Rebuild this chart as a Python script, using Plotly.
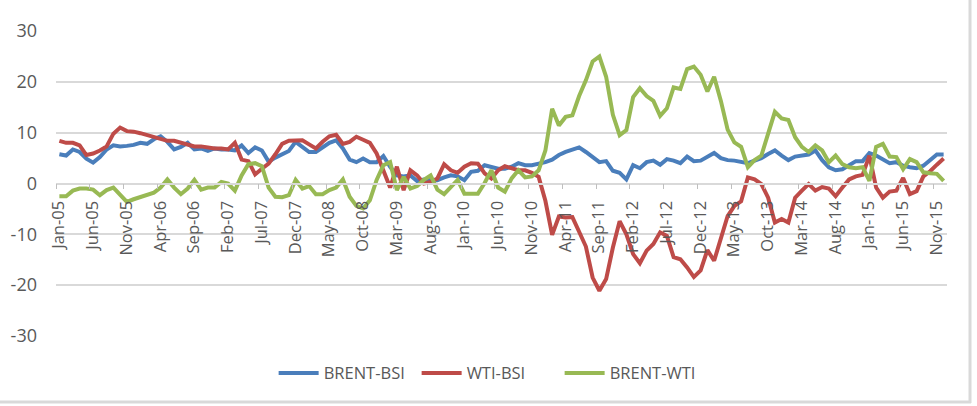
import plotly.graph_objects as go

months = [f"{m}-{y:02d}" for y in range(5, 16) for m in
          ["Jan", "Feb", "Mar", "Apr", "May", "Jun", "Jul", "Aug", "Sep", "Oct", "Nov", "Dec"]]

brent_bsi = [
    5.75, 5.5, 6.7, 6.2, 4.9, 4.1, 5.2, 6.7, 7.5, 7.3, 7.4, 7.6,
    8.0, 7.8, 8.7, 9.3, 8.2, 6.7, 7.2, 8.0, 6.7, 6.9, 6.4, 6.9,
    6.7, 6.7, 6.5, 7.5, 6.0, 7.1, 6.5, 4.3, 5.1, 5.7, 6.4, 8.2,
    7.1, 6.2, 6.2, 7.2, 8.0, 8.5, 6.9, 4.7, 4.2, 4.9, 4.2, 4.2,
    5.4, 3.3, 1.6, 1.4, 1.6, 0.5, 0.8, 0.65, 0.65, 1.2, 1.6, 1.4,
    0.65, 2.3, 2.5, 3.6, 3.3, 2.9, 2.9, 3.3, 4.0, 3.6, 3.6, 3.8,
    4.2, 4.7, 5.6, 6.2, 6.7, 7.1, 6.2, 5.1, 4.2, 4.4, 2.5, 2.1,
    0.8, 3.6, 3.0, 4.2, 4.5, 3.7, 4.8, 4.5, 4.0, 5.3, 4.4, 4.5,
    5.3, 6.0, 5.0, 4.6, 4.5, 4.2, 4.0, 4.5, 5.0, 5.8, 6.5, 5.5,
    4.6, 5.3, 5.5, 5.7, 6.5, 4.6, 3.2, 2.6, 2.8, 3.5, 4.4, 4.4,
    6.0, 5.5, 4.8, 4.0, 4.2, 3.5, 3.2, 3.0, 3.5, 4.5, 5.7, 5.7,
]

wti_bsi = [
    8.4, 8.0, 8.0, 7.5, 5.6, 5.9, 6.5, 7.3, 9.8, 11.0, 10.3, 10.2,
    9.9, 9.5, 9.0, 8.6, 8.4, 8.4, 8.0, 7.7, 7.3, 7.3, 7.1, 6.9,
    6.9, 6.7, 8.0, 4.7, 4.4, 1.8, 2.9, 3.9, 5.75, 7.8, 8.4, 8.5,
    8.5, 7.7, 6.9, 8.2, 9.3, 9.6, 7.8, 8.2, 9.2, 8.6, 8.0, 5.9,
    2.3, -0.8, 3.3, -1.3, 2.6, 1.6, 0.0, 0.3, 1.0, 3.8, 2.6, 2.1,
    3.3, 4.0, 3.9, 2.0, 1.0, 2.6, 3.4, 2.9, 2.6, 2.6, 2.1, 1.3,
    -3.4, -10.1, -6.5, -6.7, -6.6, -9.5, -12.4, -18.5, -21.1, -18.8, -12.6, -7.4,
    -10.0, -13.9, -15.7, -13.2, -11.9, -9.6, -10.3, -14.5, -14.9, -16.5, -18.4, -17.1,
    -13.1, -15.2, -10.9, -6.4, -4.4, -3.5, 1.2, 0.8, -0.1, -2.8, -7.7, -7.0,
    -7.7, -2.8, -1.4, -0.1, -1.4, -0.7, -1.0, -2.5, -0.8, 0.8, 1.4, 1.7,
    5.5, -0.8, -2.8, -1.6, -1.4, 1.1, -2.1, -1.5, 1.4, 2.4, 3.7, 4.9,
]

brent_wti = [
    -2.5, -2.5, -1.4, -1.0, -1.0, -1.2, -2.3, -1.3, -0.8, -2.1, -3.6, -3.1,
    -2.6, -2.1, -1.8, -0.8, 0.8, -0.8, -2.1, -1.0, 0.7, -1.2, -0.8, -0.8,
    0.3, 0.0, -1.4, 1.6, 3.8, 4.0, 3.4, -0.8, -2.6, -2.7, -2.3, 0.7,
    -1.0, -0.5, -2.1, -2.1, -1.3, -0.8, 0.8, -2.6, -4.4, -4.9, -3.3, 0.7,
    3.6, 4.2, -1.3, 1.3, -1.0, -0.5, 0.7, 1.6, -1.2, -2.1, -0.8, 0.7,
    -2.0, -2.0, -2.0, 0.1, 2.6, -0.8, -1.6, 1.0, 2.6, 1.2, 1.4, 2.6,
    6.5, 14.7, 11.4, 13.1, 13.4, 17.2, 20.3, 24.0, 25.0, 21.0, 13.5, 9.5,
    10.5, 17.0, 18.75, 17.2, 16.25, 13.3, 14.8, 18.9, 18.6, 22.5, 23.0, 21.4,
    18.1, 21.0, 16.25, 10.6, 8.1, 7.2, 3.2, 4.6, 5.5, 9.8, 14.1, 12.8,
    12.5, 9.1, 7.2, 6.2, 7.5, 6.5, 4.2, 5.5, 3.8, 3.2, 3.0, 3.2,
    0.5, 7.2, 7.8, 5.3, 5.2, 2.8, 4.8, 4.2, 2.2, 2.0, 1.9, 0.5,
]

series_names = ["BRENT-BSI", "WTI-BSI", "BRENT-WTI"]
series_colors = ["#4A7EBB", "#BE4B48", "#98B954"]

x_idx = list(range(len(months)))
tick_pos = [i - 0.5 for i in range(0, len(months), 5)]
tick_text = [months[i] for i in range(0, len(months), 5)]

fig = go.Figure()
for name, vals, col in zip(series_names, [brent_bsi, wti_bsi, brent_wti], series_colors):
    fig.add_trace(go.Scatter(
        x=x_idx, y=vals, name=name, mode="lines",
        line=dict(color=col, width=4, shape="linear"),
        hoverinfo="skip",
    ))

font_family = "Open Sans, Liberation Sans, sans-serif"
grid_col = "#D9D9D9"

fig.update_layout(
    width=977, height=406,
    margin=dict(l=56, r=30, t=31, b=70),
    paper_bgcolor="white", plot_bgcolor="white",
    font=dict(family=font_family, color="#595959"),
    showlegend=True,
    legend=dict(
        orientation="h", x=0.485, xanchor="center", y=-0.122, yanchor="middle",
        font=dict(size=16.5, color="#595959", family=font_family),
        itemwidth=40, tracegroupgap=0, entrywidth=88, entrywidthmode="pixels",
        bgcolor="rgba(0,0,0,0)",
    ),
    xaxis=dict(
        range=[-0.5, len(months) - 0.5],
        tickmode="array", tickvals=tick_pos, ticktext=tick_text,
        tickangle=-90, ticks="outside", ticklen=5, tickcolor="#BFBFBF", tickwidth=1,
        ticklabelshift=3, ticklabelstandoff=5,
        tickfont=dict(size=16.5, color="#595959"),
        showgrid=False, zeroline=False,
        showline=True, linecolor=grid_col, linewidth=1.5,
        anchor="free", position=0.5,
    ),
    yaxis=dict(
        range=[-30, 30], tickmode="array", tickvals=[-30, -20, -10, 0, 10, 20, 30],
        ticktext=["-30", "-20", "-10", "0", "10", "20", "30"],
        showgrid=True, gridcolor=grid_col, gridwidth=1.5,
        zeroline=False, showline=False, ticks="",
        ticklabelstandoff=18,
        tickfont=dict(size=18, color="#595959"),
    ),
    shapes=[
        dict(type="line", xref="paper", yref="paper", x0=(970 - 56) / 891, x1=(970 - 56) / 891,
             y0=(336 - 403) / 305, y1=(336 + 10) / 305, line=dict(color=grid_col, width=3)),
        dict(type="line", xref="paper", yref="paper", x0=-56 / 891, x1=(971 - 56) / 891,
             y0=(336 - 402) / 305, y1=(336 - 402) / 305, line=dict(color=grid_col, width=3)),
    ],
)

fig.write_html("out.html")
